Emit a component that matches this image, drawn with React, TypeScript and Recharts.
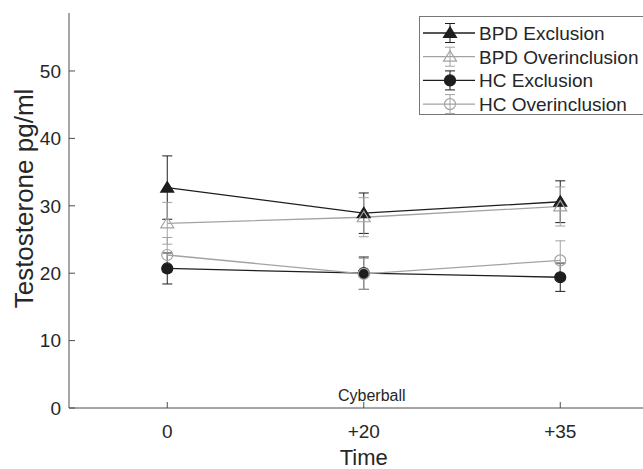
import React from 'react';
import { LineChart, Line, XAxis, YAxis, ErrorBar, Legend, ReferenceLine } from 'recharts';

const timeLabels = ['0', '+20', '+35'];
const bpdExclusion = [32.7, 28.9, 30.6];
const bpdExclusionErr = [4.7, 3.0, 3.1];
const bpdOverinclusion = [27.4, 28.3, 29.9];
const bpdOverinclusionErr = [3.1, 2.9, 2.9];
const hcExclusion = [20.7, 20.0, 19.4];
const hcExclusionErr = [2.3, 2.4, 2.1];
const hcOverinclusion = [22.7, 19.9, 21.9];
const hcOverinclusionErr = [2.6, 2.3, 2.9];
const yTicks = [0, 10, 20, 30, 40, 50];
const eventLabel = 'Cyberball';

const FONT = '"Liberation Sans", Arial, sans-serif';
const BLACK = '#1e1e1e';
const GRAY = '#a3a3a3';

type Shape = 'triangle' | 'circle';

interface SeriesDef {
    key: string;
    name: string;
    color: string;
    shape: Shape;
    filled: boolean;
}

const series: SeriesDef[] = [
    { key: 'bpdExcl', name: 'BPD Exclusion', color: BLACK, shape: 'triangle', filled: true },
    { key: 'bpdOver', name: 'BPD Overinclusion', color: GRAY, shape: 'triangle', filled: false },
    { key: 'hcExcl', name: 'HC Exclusion', color: BLACK, shape: 'circle', filled: true },
    { key: 'hcOver', name: 'HC Overinclusion', color: GRAY, shape: 'circle', filled: false },
];

const data = timeLabels.map((t, i) => ({
    x: i,
    time: t,
    bpdExcl: bpdExclusion[i],
    bpdExclErr: bpdExclusionErr[i],
    bpdOver: bpdOverinclusion[i],
    bpdOverErr: bpdOverinclusionErr[i],
    hcExcl: hcExclusion[i],
    hcExclErr: hcExclusionErr[i],
    hcOver: hcOverinclusion[i],
    hcOverErr: hcOverinclusionErr[i],
}));

const Marker = ({ cx, cy, s }: { cx: number; cy: number; s: SeriesDef }) => {
    const fill = s.filled ? s.color : 'none';
    if (s.shape === 'triangle') {
        const pts = `${cx},${cy - 6} ${cx - 6.5},${cy + 4.5} ${cx + 6.5},${cy + 4.5}`;
        return <polygon points={pts} fill={fill} stroke={s.color} strokeWidth={1.2} />;
    }
    return <circle cx={cx} cy={cy} r={5.5} fill={fill} stroke={s.color} strokeWidth={1.2} />;
};

const makeDot = (s: SeriesDef) => (props: any) => {
    const { cx, cy, index } = props;
    return (
        <g key={`${s.key}-${index}`}>
            <Marker cx={cx} cy={cy} s={s} />
        </g>
    );
};

// rotated y label, a bit above the axis middle like the original
const YLabel = (props: any) => {
    const vb = props.viewBox || {};
    const x = vb.x + 24;
    const y = vb.y + vb.height / 2 - 12;
    return (
        <text
            x={x}
            y={y}
            transform={`rotate(-90, ${x}, ${y})`}
            textAnchor="middle"
            dominantBaseline="central"
            fontSize={26}
            fontFamily={FONT}
            fill="#262626"
        >
            Testosterone pg/ml
        </text>
    );
};

const LegendBox = () => (
    <svg width={224} height={100} style={{ display: 'block' }}>
        <rect x={0.5} y={0.5} width={260} height={98} fill="#fff" stroke="#777" strokeWidth={1} />
        {series.map((s, i) => {
            const y = 17 + i * 23.7;
            return (
                <g key={s.key}>
                    <line x1={4} x2={56} y1={y} y2={y} stroke={s.color} strokeWidth={1.3} />
                    <line x1={31} x2={31} y1={y - 9.5} y2={y + 9.5} stroke={s.color} strokeWidth={1} />
                    <line x1={26} x2={36} y1={y - 9.5} y2={y - 9.5} stroke={s.color} strokeWidth={1} />
                    <line x1={26} x2={36} y1={y + 9.5} y2={y + 9.5} stroke={s.color} strokeWidth={1} />
                    <Marker cx={31} cy={y} s={s} />
                    <text x={60} y={y + 7} fontSize={19} fontFamily={FONT} fill="#262626">
                        {s.name}
                    </text>
                </g>
            );
        })}
    </svg>
);

const App = () => {
    return (
        <div style={{ position: 'fixed', left: 0, top: 0, width: 643, height: 469, overflow: 'hidden', background: '#fff' }}>
            <LineChart
                width={680}
                height={469}
                data={data}
                margin={{ top: 13, right: 21.5, bottom: 0, left: 0 }}
            >
                <XAxis
                    dataKey="x"
                    type="number"
                    domain={[-0.5, 2.5]}
                    ticks={[0, 1, 2]}
                    tickFormatter={(v: number) => timeLabels[v]}
                    height={61}
                    tickSize={-6}
                    tickMargin={22.5}
                    stroke="#4d4d4d"
                    tick={{ fill: '#262626', fontSize: 19, fontFamily: FONT }}
                    label={{ value: 'Time', position: 'insideBottom', offset: 4, fontSize: 22, fontFamily: FONT, fill: '#262626' }}
                />
                <YAxis
                    type="number"
                    domain={[0, 58.6]}
                    ticks={yTicks}
                    allowDataOverflow
                    width={69}
                    tickSize={-6}
                    tickMargin={14}
                    stroke="#4d4d4d"
                    tick={{ fill: '#262626', fontSize: 19, fontFamily: FONT }}
                    label={<YLabel />}
                />
                <ReferenceLine
                    x={1}
                    stroke="none"
                    label={{ value: eventLabel, position: 'insideBottom', offset: 7, dx: 8, fontSize: 16, fontFamily: FONT, fill: '#262626' }}
                />
                {series.map((s) => (
                    <Line
                        key={s.key}
                        dataKey={s.key}
                        name={s.name}
                        type="linear"
                        stroke={s.color}
                        strokeWidth={1.3}
                        dot={makeDot(s)}
                        activeDot={false}
                        isAnimationActive={false}
                    >
                        <ErrorBar dataKey={`${s.key}Err`} width={5} stroke={s.color} strokeWidth={1} direction="y" isAnimationActive={false} />
                    </Line>
                ))}
                <Legend
                    layout="vertical"
                    align="center"
                    verticalAlign="middle"
                    content={() => <LegendBox />}
                    wrapperStyle={{ left: 419, top: 16, width: 224, height: 100 }}
                />
            </LineChart>
        </div>
    );
};

export default App;
